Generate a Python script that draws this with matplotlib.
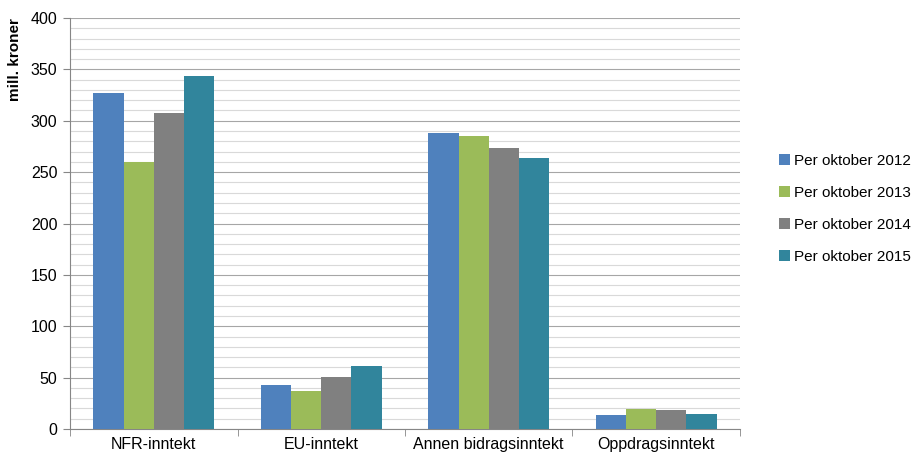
import numpy as np
import matplotlib.pyplot as plt
from matplotlib.ticker import MultipleLocator, FixedLocator

plt.rcParams['font.family'] = ['Liberation Sans', 'DejaVu Sans']

categories = ['NFR-inntekt', 'EU-inntekt', 'Annen bidragsinntekt', 'Oppdragsinntekt']
series = ['Per oktober 2012', 'Per oktober 2013', 'Per oktober 2014', 'Per oktober 2015']
v2012 = [327, 42.5, 288, 13.5]
v2013 = [260, 37, 285, 19.5]
v2014 = [307.5, 50.5, 273.5, 18.5]
v2015 = [343.5, 61, 264, 14.5]
colors = ['#4F81BD', '#9BBB59', '#808080', '#31859C']

fig = plt.figure(figsize=(9.14, 4.55), dpi=100)
ax = fig.add_axes([0.0766, 0.0571, 0.7330, 0.9033])

x = np.arange(len(categories))
w = 0.18
for i, (vals, lab) in enumerate(zip([v2012, v2013, v2014, v2015], series)):
    ax.bar(x + (i - 1.5) * w, vals, w, color=colors[i], label=lab, zorder=3)

ax.set_xlim(-0.5, len(categories) - 0.5)
ax.set_ylim(0, 400)
ax.yaxis.set_major_locator(MultipleLocator(50))
ax.yaxis.set_minor_locator(MultipleLocator(10))
ax.grid(which='minor', axis='y', color='#D9D9D9', linewidth=0.8, zorder=0)
ax.grid(which='major', axis='y', color='#A6A6A6', linewidth=0.8, zorder=0)

ax.set_xticks(x)
ax.set_xticklabels(categories, fontsize=11.5)
ax.xaxis.set_minor_locator(FixedLocator(np.arange(-0.5, len(categories), 1.0)))
ax.tick_params(axis='x', which='major', length=0, pad=6)
ax.tick_params(axis='x', which='minor', length=5, color='#868686', direction='out')
ax.tick_params(axis='y', which='major', length=5, color='#868686', labelsize=11.5, pad=4)
ax.tick_params(axis='y', which='minor', length=0)

for s in ['top', 'right']:
    ax.spines[s].set_visible(False)
ax.spines['left'].set_color('#868686')
ax.spines['bottom'].set_color('#868686')

ax.set_ylabel('mill. kroner', fontsize=11, fontweight='bold', labelpad=6, loc='top')

ax.legend(loc='center left', bbox_to_anchor=(1.038, 0.535), frameon=False, fontsize=11,
          handlelength=0.7, handleheight=0.7, handletextpad=0.3, labelspacing=1.18)

plt.savefig('out.png', dpi=100)
